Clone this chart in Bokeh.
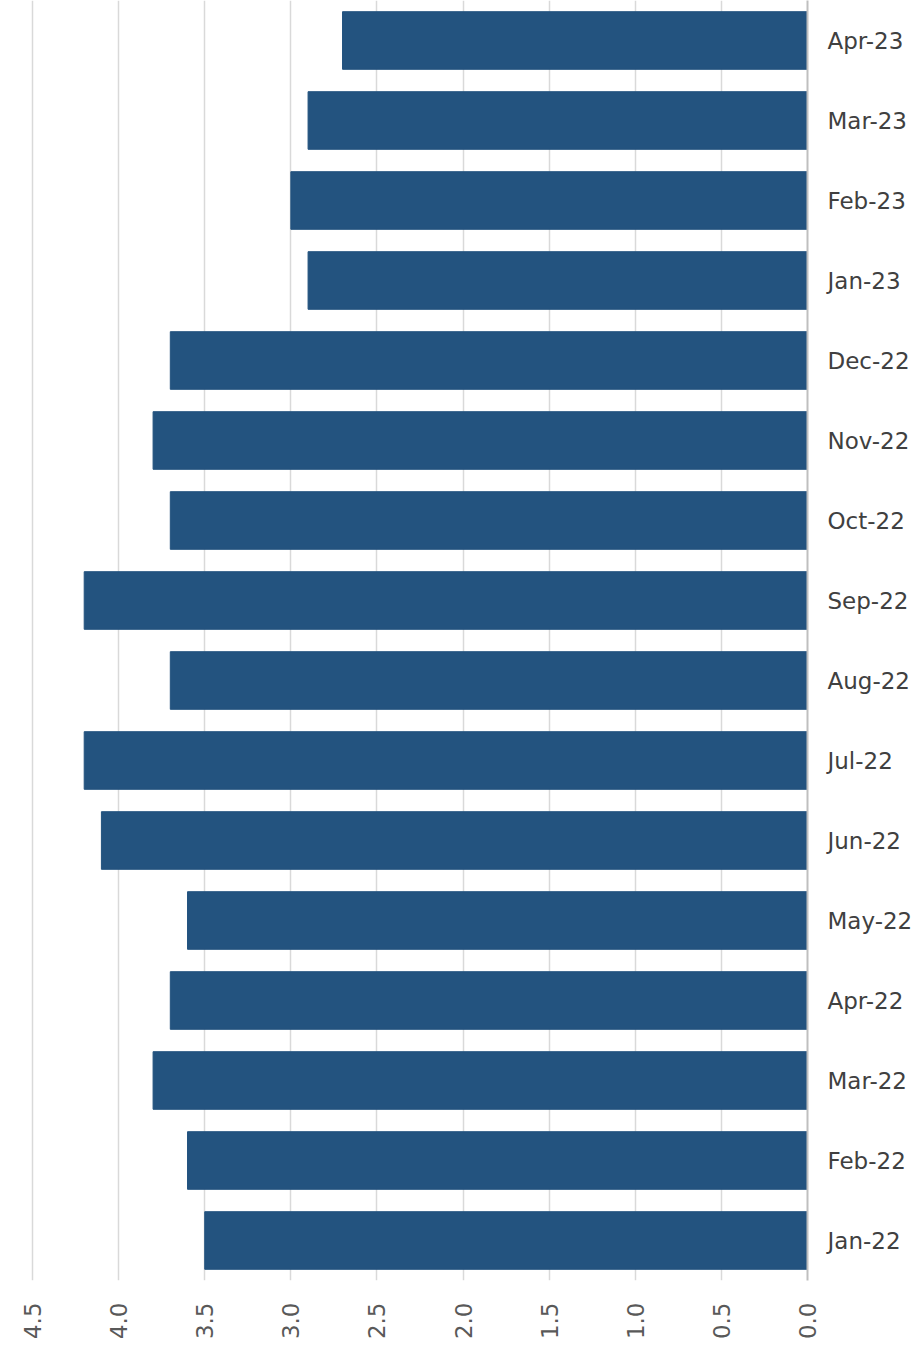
from bokeh.plotting import figure
from bokeh.models import Range1d, FactorRange, FixedTicker, LinearAxis, CategoricalAxis
from bokeh.models import PrintfTickFormatter
from bokeh.embed import file_html
from bokeh.resources import INLINE
import math

# Monthly values, oldest first (drawn bottom to top)
months = ["Jan-22", "Feb-22", "Mar-22", "Apr-22", "May-22", "Jun-22", "Jul-22", "Aug-22",
          "Sep-22", "Oct-22", "Nov-22", "Dec-22", "Jan-23", "Feb-23", "Mar-23", "Apr-23"]
values = [3.5, 3.6, 3.8, 3.7, 3.6, 4.1, 4.2, 3.7,
          4.2, 3.7, 3.8, 3.7, 2.9, 3.0, 2.9, 2.7]
value_ticks = [0.0, 0.5, 1.0, 1.5, 2.0, 2.5, 3.0, 3.5, 4.0, 4.5]

BAR_COLOR = "#23537f"
FONT = "DejaVu Sans"

p = figure(
    width=921, height=1349,
    x_range=Range1d(4.686, 0.0),
    y_range=FactorRange(*months, range_padding=0),
    x_axis_location=None, y_axis_location=None,
    output_backend="svg", toolbar_location=None,
    min_border_left=0, min_border_top=0,
    min_border_right=114, min_border_bottom=69,
)
p.outline_line_color = None
p.background_fill_color = "white"
p.border_fill_color = "white"

p.hbar(y=months, left=0, right=values, height=0.72, color=BAR_COLOR)

# value axis along the bottom, labels running upward
xaxis = LinearAxis(
    ticker=FixedTicker(ticks=value_ticks),
    formatter=PrintfTickFormatter(format="%.1f"),
    axis_line_color=None,
    major_tick_line_color=None, minor_tick_line_color=None,
    major_label_orientation=math.pi / 2,
    major_label_standoff=16,
    major_label_text_font=FONT,
    major_label_text_font_size="23px",
    major_label_text_color="#595959",
)
p.add_layout(xaxis, "below")

# month axis on the right
yaxis = CategoricalAxis(
    axis_line_color="#bfbfbf", axis_line_width=2,
    major_tick_line_color=None, minor_tick_line_color=None,
    major_tick_out=0,
    major_label_standoff=20,
    major_label_text_font=FONT,
    major_label_text_font_size="23px",
    major_label_text_color="#404040",
)
p.add_layout(yaxis, "right")

p.xgrid.ticker = FixedTicker(ticks=value_ticks)
p.xgrid.grid_line_color = "#d9d9d9"
p.xgrid.grid_line_width = 1.5
p.ygrid.grid_line_color = None

open("out.html", "w").write(file_html(p, INLINE))
